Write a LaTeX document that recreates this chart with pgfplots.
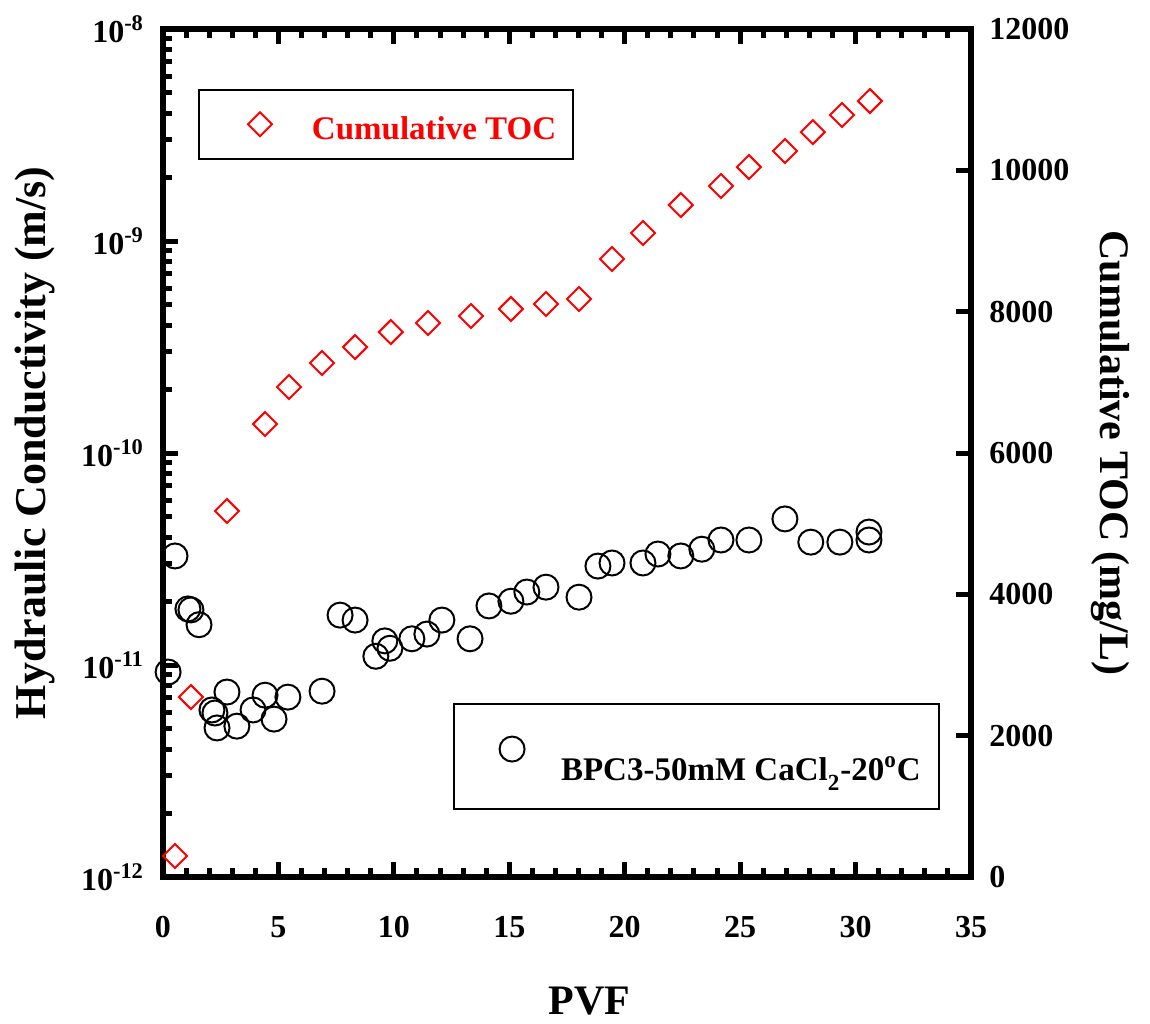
\documentclass[border=0pt]{standalone}
\usepackage{fontspec}
\setmainfont{Liberation Serif}
\usepackage{pgfplots}
\pgfplotsset{compat=1.18}
\begin{document}
\begin{tikzpicture}
\pgfplotsset{
  common/.style={
    scale only axis, width=404pt, height=424pt,
    xmin=0, xmax=35,
    axis line style={line width=3pt},
    every tick/.style={black, line width=2.5pt},
    major tick length=7.5pt, minor tick length=4.5pt,
    tick align=inside,
    tick label style={font=\fontsize{16}{19}\selectfont\bfseries},
    label style={font=\fontsize{21}{25}\selectfont\bfseries},
    /pgf/number format/assume math mode=true,
    /pgf/number format/set thousands separator={},
    scaled ticks=false,
    clip=false,
  },
}
\begin{axis}[common,
  ymode=log, ymin=1e-12, ymax=1e-8,
  xtick={0,5,...,35}, minor x tick num=4,
  xtick pos=both, xticklabel pos=bottom,
  ytick pos=left, yticklabel pos=left,
  ytick={1e-12,1e-11,1e-10,1e-9,1e-8},
  yticklabels={10\textsuperscript{-12},10\textsuperscript{-11},10\textsuperscript{-10},10\textsuperscript{-9},10\textsuperscript{-8}},
  minor ytick={2e-12,3e-12,4e-12,5e-12,6e-12,7e-12,8e-12,9e-12,
               2e-11,3e-11,4e-11,5e-11,6e-11,7e-11,8e-11,9e-11,
               2e-10,3e-10,4e-10,5e-10,6e-10,7e-10,8e-10,9e-10,
               2e-9,3e-9,4e-9,5e-9,6e-9,7e-9,8e-9,9e-9},
  xticklabel shift=16pt, yticklabel shift=6pt,
  xlabel={PVF}, ylabel={Hydraulic Conductivity (m/s)},
  xlabel style={at={(axis description cs:0.528,-0.146)}, anchor=center},
  ylabel style={at={(axis description cs:-0.158,0.512)}, anchor=center, font=\fontsize{22}{26}\selectfont\bfseries},
  legend style={at={(rel axis cs:0.359,0.079)}, anchor=south west,
    draw=black, line width=1pt, inner xsep=0pt, inner ysep=0pt,
    cells={anchor=base west},
    font=\fontsize{16.5}{20}\selectfont\bfseries, nodes={inner sep=0pt}},
  legend image code/.code={\draw[#1] plot coordinates {(0pt,15.5pt)}; \path (-28.5pt,-14pt) (24pt,37.5pt);},
]
\addplot[only marks, mark=o, mark size=6.25pt, mark options={line width=1pt, black}] coordinates {
(0.22,9.27e-12) (0.52,3.27e-11) (1.08,1.84e-11) (1.21,1.82e-11) (1.56,1.55e-11)
(2.12,6.14e-12) (2.25,5.94e-12) (2.34,5.05e-12) (2.77,7.46e-12) (3.2,5.15e-12)
(3.9,6.14e-12) (4.42,7.21e-12) (4.81,5.56e-12) (5.41,7.06e-12) (6.89,7.53e-12)
(7.67,1.72e-11) (8.32,1.63e-11) (9.22,1.10e-11) (9.61,1.30e-11) (9.83,1.20e-11)
(10.78,1.33e-11) (11.43,1.40e-11) (12.08,1.63e-11) (13.3,1.33e-11) (14.12,1.90e-11)
(15.07,2.00e-11) (15.76,2.21e-11) (16.59,2.33e-11) (18.02,2.09e-11) (18.84,2.93e-11)
(19.45,3.03e-11) (20.79,3.03e-11) (21.44,3.34e-11) (22.43,3.27e-11) (23.34,3.52e-11)
(24.17,3.89e-11) (25.38,3.89e-11) (26.94,4.89e-11) (28.06,3.80e-11) (29.32,3.80e-11)
(30.58,4.24e-11) (30.58,3.89e-11)
};
\addlegendentry{BPC3-50mM CaCl\raisebox{-0.35ex}{\textsubscript{2}}-20\textsuperscript{o}C\hspace*{9pt}}
\coordinate (A) at (rel axis cs:0,0);
\coordinate (B) at (rel axis cs:1,1);
\end{axis}
\begin{axis}[common,
  hide x axis,
  ymin=0, ymax=12000, ytick={0,2000,...,12000},
  ytick pos=right, yticklabel pos=right,
  yticklabel shift=5.7pt,
  ylabel={Cumulative TOC (mg/L)},
  ylabel style={at={(axis description cs:1.173,0.5)}, anchor=center, rotate=180},
  legend style={at={(rel axis cs:0.0433,0.929)}, anchor=north west,
    draw=black, line width=1pt, inner xsep=0pt, inner ysep=0pt,
    cells={anchor=base west},
    font=\fontsize{16.5}{20}\selectfont\bfseries, nodes={inner sep=0pt}},
  legend image code/.code={\draw[#1] plot coordinates {(0pt,7.5pt)}; \path (-30pt,-9.5pt) (25.5pt,24pt);},
]
\addplot[only marks, mark=square, mark size=4.24pt, mark options={rotate=45, line width=1pt, red}] coordinates {
(0.52,297) (1.21,2547) (2.77,5179) (4.42,6410) (5.46,6934) (6.89,7274)
(8.32,7500) (9.87,7712) (11.48,7840) (13.34,7939) (15.07,8038) (16.59,8108)
(18.02,8179) (19.45,8745) (20.79,9113) (22.43,9509) (24.17,9778) (25.38,10047)
(26.94,10274) (28.15,10542) (29.41,10783) (30.62,10981)
};
\addlegendentry{\textcolor{red}{Cumulative TOC}\hspace*{8.5pt}}
\end{axis}
\pgfresetboundingbox
\path[use as bounding box] ([shift={(-81.5pt,-73pt)}]A) rectangle ([shift={(89.5pt,14.5pt)}]B);
\end{tikzpicture}
\end{document}
